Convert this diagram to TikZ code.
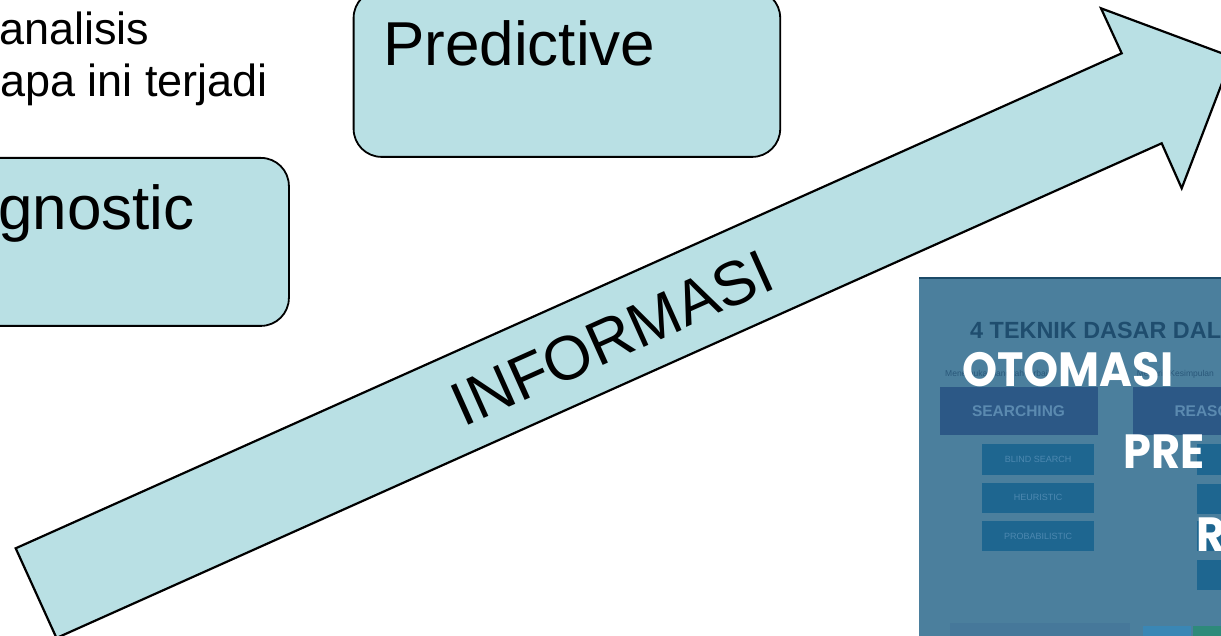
\documentclass[tikz,border=0pt]{standalone}
\usepackage{fontspec}
\setmainfont{Liberation Sans}
\newfontfamily\popfont{Poppins}
\newcommand\setfs[1]{\fontsize{#1}{#1}\selectfont}
\newcommand\narrow[1]{\scalebox{0.93}[1]{#1}}

\definecolor{lightcyan}{HTML}{B9E0E4}
\definecolor{insetbg}{HTML}{4B7F9D}
\definecolor{insetline}{HTML}{1B4A68}
\definecolor{titleblue}{HTML}{1F4D6E}
\definecolor{bigboxblue}{HTML}{2C5886}
\definecolor{subboxblue}{HTML}{1E6690}
\definecolor{biglabel}{HTML}{5B8AB0}
\definecolor{sublabel}{HTML}{4D88B0}
\definecolor{smalltext}{HTML}{2A587A}
\definecolor{stripblue}{HTML}{3A87B5}
\definecolor{stripgreen}{HTML}{2E8A7A}
\definecolor{stripdark}{HTML}{46789A}

\tikzset{
  cbox/.style={draw=black, line width=1.8pt, fill=lightcyan,
    rounded corners=28pt, inner sep=0pt, anchor=north west},
  bigtext/.style={inner sep=0pt, font=\setfs{62}, text=black},
  notetext/.style={inner sep=0pt, anchor=base west, font=\setfs{45}, text=black},
  bigbox/.style={fill=bigboxblue, inner sep=0pt, anchor=north west,
    minimum width=158pt, minimum height=48.3pt},
  subbox/.style={fill=subboxblue, inner sep=0pt, anchor=north west,
    minimum width=112.3pt, minimum height=30.5pt},
  biglbl/.style={inner sep=0pt, text=biglabel, font=\bfseries\setfs{15.5}},
  sublbl/.style={inner sep=0pt, text=sublabel, font=\setfs{9}},
  overlay text/.style={inner sep=0pt, anchor=base west, text=white,
    font=\popfont\bfseries\setfs{48}},
}

\begin{document}
\begin{tikzpicture}[x=1pt,y=-1pt]
\useasboundingbox (0,0) rectangle (1221,636);
\clip (0,0) rectangle (1221,636);

% notes at the top left
\node[notetext] (note1) at (-1,45) {analisis};
\node[notetext] (note2) at (0,97) {apa ini terjadi};

% rounded category boxes
\node[cbox, minimum width=413pt, minimum height=168pt] (diag) at (-125,157) {};
\node[bigtext, anchor=base west] (diagtxt) at (-2,230) {gnostic};

\node[cbox, minimum width=426.6pt, minimum height=167pt] (pred) at (352.7,-11) {};
\node[bigtext, anchor=base west] (predtxt) at (383,65.5) {Predictive};

% the big information arrow
\path (15.7,548.3) coordinate (tailtop)
      (1121.7,53.3) coordinate (notchtop)
      (1101,8.3) coordinate (barbtop)
      (1232,57) coordinate (tip)
      (1181.7,188.3) coordinate (barbbot)
      (1161.7,143.3) coordinate (notchbot)
      (56.5,638) coordinate (tailbot);
\draw[fill=lightcyan, line width=2.2pt, line join=miter]
  (tailtop) -- (notchtop) -- (barbtop) -- (tip) -- (barbbot)
  -- (notchbot) -- (tailbot) -- cycle;
\node[bigtext, rotate=24.1] (info) at (612,338) {INFORMASI};

% slide thumbnail in the lower right corner
\begin{scope}
  \clip (919,277.5) rectangle (1221,636);
  \fill[insetbg] (919,277.5) rectangle (1221,636);
  \draw[insetline, line width=1.5pt] (919,278) -- (1221,278);

  \node[inner sep=0pt, anchor=base west, text=titleblue,
        font=\bfseries\setfs{23.4}] (title) at (970,338.3) {4 TEKNIK DASAR DAL};
  \node[inner sep=0pt, anchor=base west, text=smalltext, font=\setfs{8.5}]
        (sub1) at (945,376.7) {Menemukan langkah terbaik};
  \node[inner sep=0pt, anchor=base west, text=smalltext, font=\setfs{8.5}]
        (sub2) at (1136.7,376.7) {Menarik Kesimpulan};

  \node[bigbox] (srch) at (939.3,386.7) {};
  \node[biglbl] (srchlbl) at (srch.center) {SEARCHING};
  \node[bigbox] (reas) at (1132.7,386.7) {};
  \node[biglbl, anchor=base west] (reaslbl) at (1174.3,416.7) {REASO};

  \node[subbox] (blind) at (981.7,444) {};
  \node[sublbl] (blindlbl) at (blind.center) {BLIND SEARCH};
  \node[subbox] (heur) at (981.7,482.3) {};
  \node[sublbl] (heurlbl) at (heur.center) {HEURISTIC};
  \node[subbox] (prob) at (981.7,520.7) {};
  \node[sublbl] (problbl) at (prob.center) {PROBABILISTIC};

  \node[subbox] (rs1) at (1196.7,444) {};
  \node[subbox] (rs2) at (1196.7,483.3) {};
  \node[subbox] (rs3) at (1196.7,520.7) {};
  \node[subbox] (rs4) at (1196.7,559.3) {};

  % strip of thumbnails along the bottom edge
  \fill[stripdark] (950,623) rectangle (1130,640);
  \fill[stripblue] (1142.7,626) rectangle (1191,640);
  \fill[stripgreen] (1193.3,626) rectangle (1230,640);

  % white headline words over the slide
  \node[overlay text] (oto) at (962,386.7) {\narrow{OTOMASI}};
  \node[overlay text] (pre) at (1123,468.3) {\narrow{PRE}};
  \node[overlay text] (rr) at (1196,551.7) {\narrow{R}};
\end{scope}
\end{tikzpicture}
\end{document}
